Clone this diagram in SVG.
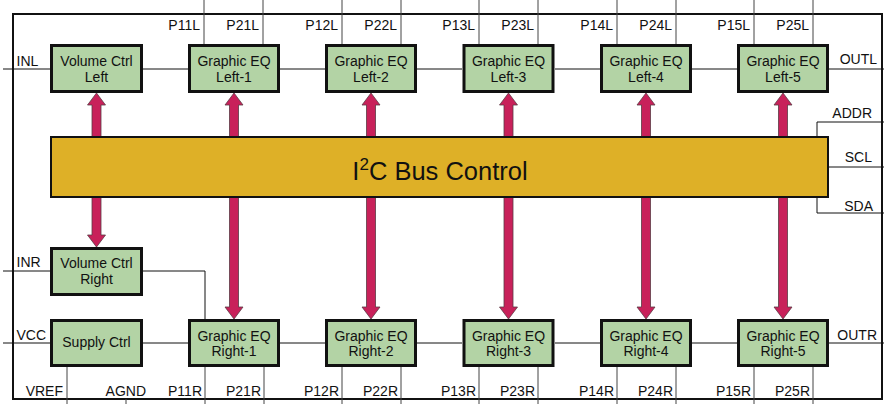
<svg xmlns="http://www.w3.org/2000/svg" width="884" height="404" viewBox="0 0 884 404">
  <style>
    .blk { fill: #B3D3A5; stroke: #111; stroke-width: 3; }
    .bus { fill: #DEB027; stroke: #111; stroke-width: 2; }
    .lbl { font-family: "Liberation Sans", Arial, sans-serif; font-size: 14px; fill: #111; text-anchor: middle; }
    .pin { font-family: "Liberation Sans", Arial, sans-serif; font-size: 14px; fill: #111; }
    .end { text-anchor: end; }
    .wire { fill: none; stroke: #111; stroke-width: 1; }
    .pinw { fill: none; stroke: #444; stroke-width: 1; }
    .arr { fill: #C8215A; stroke: #5a3a44; stroke-width: 0.8; }
  </style>

  <rect width="884" height="404" fill="#ffffff"/>

  <!-- chip outline -->
  <rect x="13" y="14" width="869" height="385" fill="none" stroke="#111" stroke-width="2"/>

  <g id="connectors">
    <!-- left channel signal chain -->
    <path class="wire" d="M3 69H50 M143 69H188 M280 69H325 M417 69H462 M555 69H600 M692 69H737 M829 69H884"/>
    <!-- right channel signal chain -->
    <path class="wire" d="M3 271H50 M143 271H205V319"/>
    <path class="wire" d="M3 343H50 M143 343H188 M280 343H325 M417 343H462 M555 343H600 M692 343H737 M829 343H884"/>
    <!-- control pins -->
    <path class="wire" d="M884 122H817V213H884 M829 167H884"/>
    <!-- top EQ pins -->
    <path class="pinw" d="M204 0V45 M263 0V45 M342 0V45 M401 0V45 M479 0V45 M538 0V45 M617 0V45 M676 0V45 M754 0V45 M813 0V45"/>
    <!-- bottom EQ pins -->
    <path class="pinw" d="M205 367V404 M264 367V404 M342 367V404 M401 367V404 M479 367V404 M538 367V404 M617 367V404 M676 367V404 M754 367V404 M813 367V404"/>
    <!-- supply pins -->
    <path class="pinw" d="M67 367V404 M126 399V404"/>

    <!-- bus arrows (double headed, run behind the bus block) -->
    <polygon class="arr" points="96.5,93 105.5,105 101,105 101,235 105.5,235 96.5,247 87.5,235 92,235 92,105 87.5,105"/>
    <polygon class="arr" points="234,93 243,105 238.5,105 238.5,307 243,307 234,319 225,307 229.5,307 229.5,105 225,105"/>
    <polygon class="arr" points="371,93 380,105 375.5,105 375.5,307 380,307 371,319 362,307 366.5,307 366.5,105 362,105"/>
    <polygon class="arr" points="508.5,93 517.5,105 513,105 513,307 517.5,307 508.5,319 499.5,307 504,307 504,105 499.5,105"/>
    <polygon class="arr" points="646,93 655,105 650.5,105 650.5,307 655,307 646,319 637,307 641.5,307 641.5,105 637,105"/>
    <polygon class="arr" points="783,93 792,105 787.5,105 787.5,307 792,307 783,319 774,307 778.5,307 778.5,105 774,105"/>
  </g>

  <!-- pin labels -->
  <g class="pin">
    <text x="16.5" y="65.5">INL</text>
    <text x="16.5" y="267">INR</text>
    <text x="16.5" y="340">VCC</text>
    <text class="end" x="877" y="64">OUTL</text>
    <text class="end" x="877" y="340">OUTR</text>
    <text class="end" x="872" y="118">ADDR</text>
    <text class="end" x="872" y="162">SCL</text>
    <text class="end" x="873" y="210.5">SDA</text>
    <text class="end" x="63" y="395.5">VREF</text>
    <text class="end" x="146" y="395.5">AGND</text>

    <text class="end" x="200" y="29.5">P11L</text>
    <text class="end" x="259" y="29.5">P21L</text>
    <text class="end" x="338" y="29.5">P12L</text>
    <text class="end" x="397" y="29.5">P22L</text>
    <text class="end" x="475" y="29.5">P13L</text>
    <text class="end" x="534" y="29.5">P23L</text>
    <text class="end" x="613" y="29.5">P14L</text>
    <text class="end" x="672" y="29.5">P24L</text>
    <text class="end" x="750" y="29.5">P15L</text>
    <text class="end" x="809" y="29.5">P25L</text>

    <text class="end" x="202" y="395.5">P11R</text>
    <text class="end" x="261" y="395.5">P21R</text>
    <text class="end" x="339" y="395.5">P12R</text>
    <text class="end" x="398" y="395.5">P22R</text>
    <text class="end" x="476" y="395.5">P13R</text>
    <text class="end" x="535" y="395.5">P23R</text>
    <text class="end" x="614" y="395.5">P14R</text>
    <text class="end" x="673" y="395.5">P24R</text>
    <text class="end" x="751" y="395.5">P15R</text>
    <text class="end" x="810" y="395.5">P25R</text>
  </g>

  <g id="bus-control">
    <rect class="bus" x="51" y="137" width="777" height="60"/>
    <text font-family="'Liberation Sans', Arial, sans-serif" font-size="25.5" fill="#111" x="440" y="179.5" text-anchor="middle">I<tspan font-size="17" dy="-10">2</tspan><tspan dy="10">C Bus Control</tspan></text>
  </g>

  <g id="vol-left">
    <rect class="blk" x="51.5" y="45.5" width="90" height="46"/>
    <text class="lbl" x="96.5" y="65.5">Volume Ctrl</text>
    <text class="lbl" x="96.5" y="81.5">Left</text>
  </g>
  <g id="eq-left-1">
    <rect class="blk" x="189.5" y="45.5" width="89" height="46"/>
    <text class="lbl" x="234" y="65.5">Graphic EQ</text>
    <text class="lbl" x="234" y="81.5">Left-1</text>
  </g>
  <g id="eq-left-2">
    <rect class="blk" x="326.5" y="45.5" width="89" height="46"/>
    <text class="lbl" x="371" y="65.5">Graphic EQ</text>
    <text class="lbl" x="371" y="81.5">Left-2</text>
  </g>
  <g id="eq-left-3">
    <rect class="blk" x="464" y="45.5" width="89" height="46"/>
    <text class="lbl" x="508.5" y="65.5">Graphic EQ</text>
    <text class="lbl" x="508.5" y="81.5">Left-3</text>
  </g>
  <g id="eq-left-4">
    <rect class="blk" x="601.5" y="45.5" width="89" height="46"/>
    <text class="lbl" x="646" y="65.5">Graphic EQ</text>
    <text class="lbl" x="646" y="81.5">Left-4</text>
  </g>
  <g id="eq-left-5">
    <rect class="blk" x="738.5" y="45.5" width="89" height="46"/>
    <text class="lbl" x="783" y="65.5">Graphic EQ</text>
    <text class="lbl" x="783" y="81.5">Left-5</text>
  </g>

  <g id="vol-right">
    <rect class="blk" x="51.5" y="248.5" width="90" height="46"/>
    <text class="lbl" x="96.5" y="267.5">Volume Ctrl</text>
    <text class="lbl" x="96.5" y="284">Right</text>
  </g>
  <g id="supply">
    <rect class="blk" x="51.5" y="320.5" width="90" height="45"/>
    <text class="lbl" x="96.5" y="347">Supply Ctrl</text>
  </g>
  <g id="eq-right-1">
    <rect class="blk" x="189.5" y="320.5" width="89" height="45"/>
    <text class="lbl" x="234" y="340.5">Graphic EQ</text>
    <text class="lbl" x="234" y="356">Right-1</text>
  </g>
  <g id="eq-right-2">
    <rect class="blk" x="326.5" y="320.5" width="89" height="45"/>
    <text class="lbl" x="371" y="340.5">Graphic EQ</text>
    <text class="lbl" x="371" y="356">Right-2</text>
  </g>
  <g id="eq-right-3">
    <rect class="blk" x="464" y="320.5" width="89" height="45"/>
    <text class="lbl" x="508.5" y="340.5">Graphic EQ</text>
    <text class="lbl" x="508.5" y="356">Right-3</text>
  </g>
  <g id="eq-right-4">
    <rect class="blk" x="601.5" y="320.5" width="89" height="45"/>
    <text class="lbl" x="646" y="340.5">Graphic EQ</text>
    <text class="lbl" x="646" y="356">Right-4</text>
  </g>
  <g id="eq-right-5">
    <rect class="blk" x="738.5" y="320.5" width="89" height="45"/>
    <text class="lbl" x="783" y="340.5">Graphic EQ</text>
    <text class="lbl" x="783" y="356">Right-5</text>
  </g>
</svg>
